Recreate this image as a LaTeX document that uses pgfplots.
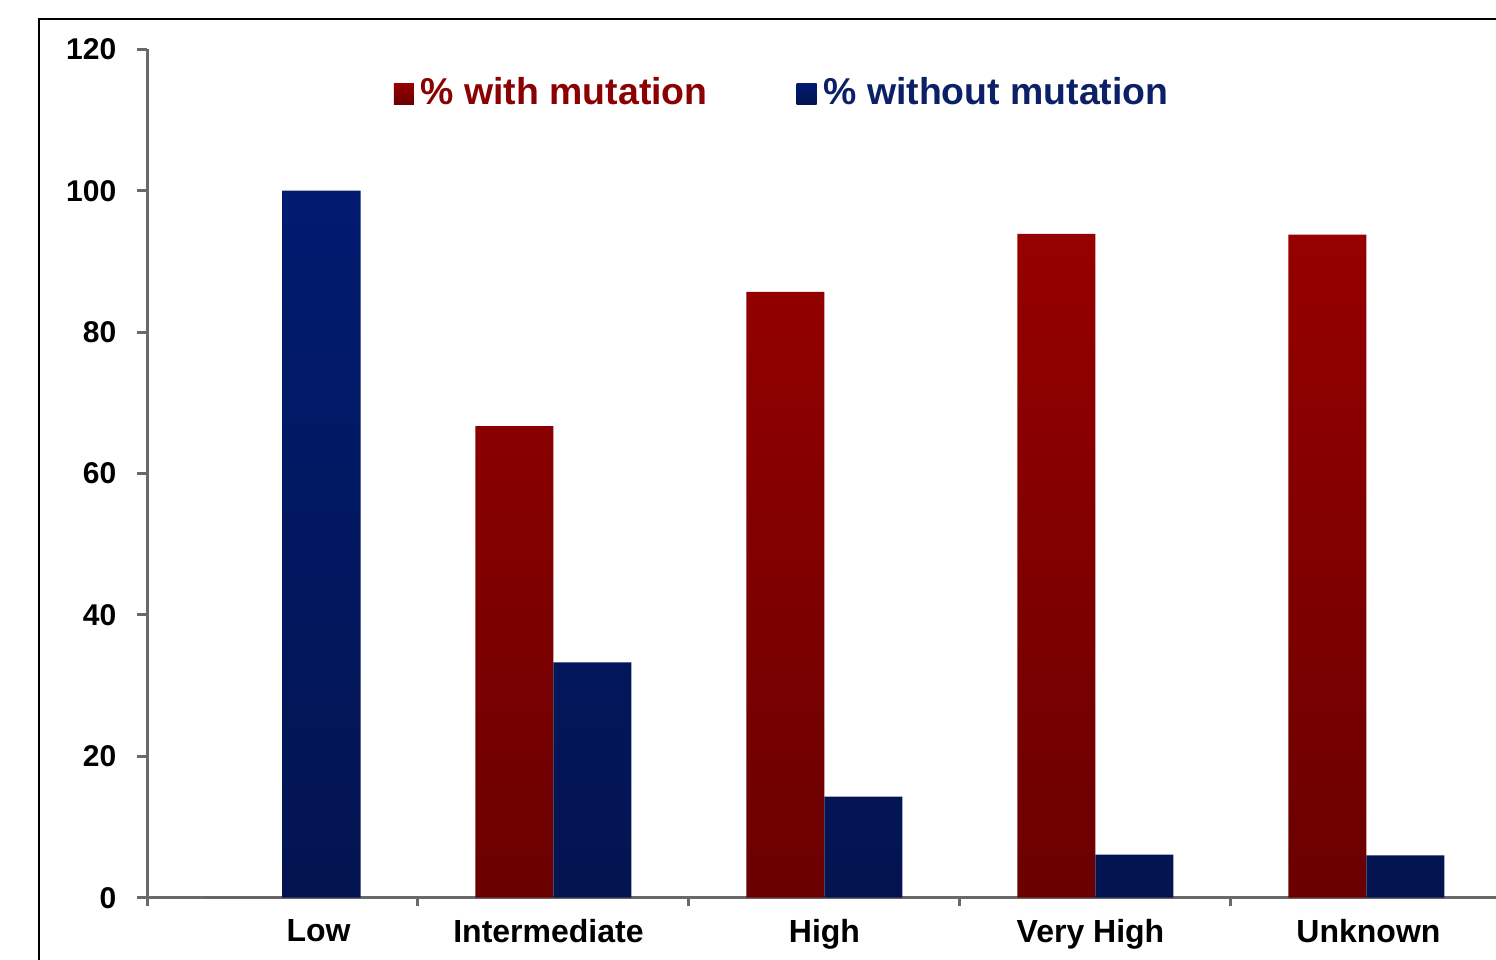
\documentclass[border=0pt]{standalone}
\usepackage{fontspec}
\setmainfont{Liberation Sans}
\usepackage{pgfplots}
\pgfplotsset{compat=1.18}

\definecolor{redtop}{RGB}{150,0,0}
\definecolor{redbot}{RGB}{106,0,0}
\definecolor{bluetop}{RGB}{0,27,112}
\definecolor{bluebot}{RGB}{3,20,80}
\definecolor{redtext}{RGB}{139,0,0}
\definecolor{bluetext}{RGB}{12,32,104}
\definecolor{axisgray}{RGB}{105,105,105}

\begin{document}
\begin{tikzpicture}
\begin{axis}[
  at={(0,0)}, anchor=south west,
  scale only axis,
  width=337.25pt, height=212.1pt,
  xmin=-0.5, xmax=4.478,
  ymin=0, ymax=120,
  axis x line*=bottom, axis y line*=left,
  axis line style={axisgray, line width=0.75pt},
  ybar=0pt, bar width=19.5pt,
  tick align=outside,
  ytick={0,20,...,120},
  xtick={0,1,2,3,4},
  xticklabels={\hspace*{18pt}Low, Intermediate\hspace*{2.5pt}, High, Very High\hspace*{2.5pt}, \hspace*{1pt}Unknown},
  minor xtick={-0.5,0.5,1.5,2.5,3.5},
  major x tick style={draw=none},
  minor x tick style={axisgray, line width=0.75pt},
  minor tick length=2pt,
  y tick style={axisgray, line width=0.75pt},
  major tick length=2.5pt,
  /pgf/number format/assume math mode=true,
  yticklabel style={font=\bfseries\fontsize{7.5pt}{9pt}\selectfont, anchor=east, inner sep=0pt, xshift=-5pt},
  xticklabel style={font=\bfseries\fontsize{8pt}{9.6pt}\selectfont, anchor=north, inner sep=0pt, yshift=-2.75pt},
  legend columns=2,
  legend style={at={(rel axis cs:0.1824,0.9473)}, anchor=west, draw=none, fill=none,
    inner sep=0pt, nodes={inner sep=0pt},
    font=\bfseries\fontsize{9.35pt}{11pt}\selectfont,
    /tikz/every odd column/.append style={column sep=1.75pt},
    /tikz/every even column/.append style={column sep=22.25pt}},
  legend image code/.code={\path[#1, draw=none] (0pt,-2.5pt) rectangle (5pt,2.5pt);},
]
% share of patients carrying the mutation, by risk group
\addplot[draw=none, top color=redtop, bottom color=redbot]
  coordinates {(0,0) (1,66.7) (2,85.7) (3,93.9) (4,93.8)};
% share of patients without the mutation
\addplot[draw=none, top color=bluetop, bottom color=bluebot]
  coordinates {(0,100) (1,33.3) (2,14.3) (3,6.1) (4,6.0)};
\legend{\textcolor{redtext}{\% with mutation}, \textcolor{bluetext}{\% without mutation}}
\end{axis}
% outer chart frame
\draw[black, line width=0.45pt] (-27pt,-30pt) |- (345pt,219.7pt);
\pgfresetboundingbox
\useasboundingbox (-36.75pt,-15.575pt) rectangle (337.25pt,224.425pt);
\end{tikzpicture}
\end{document}
